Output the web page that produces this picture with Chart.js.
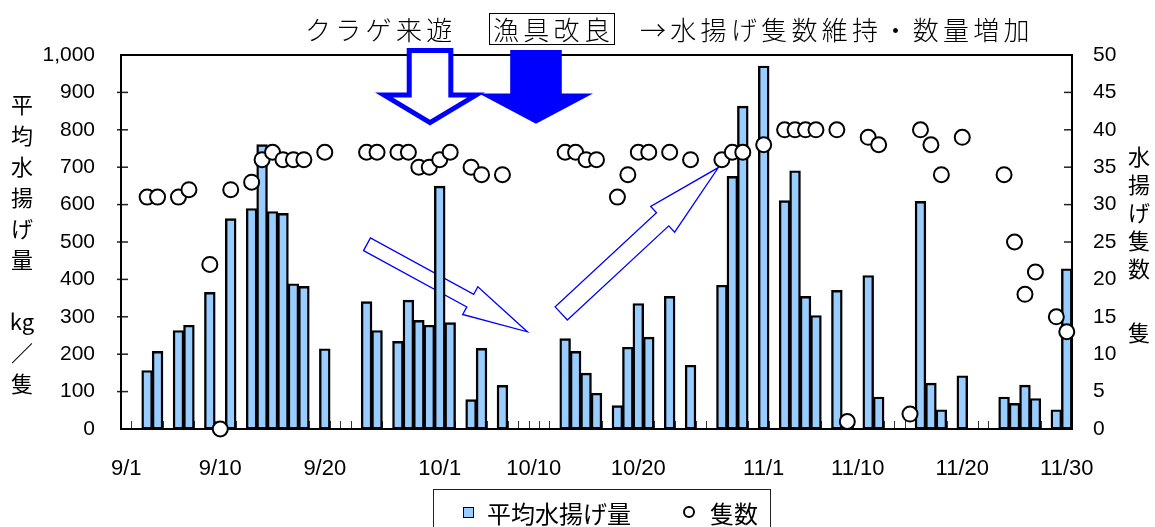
<!DOCTYPE html>
<html lang="ja">
<head>
<meta charset="utf-8">
<title>平均水揚げ量と隻数</title>
<script src="https://cdn.jsdelivr.net/npm/chart.js@4.4.1/dist/chart.umd.min.js"></script>
<style>
  html, body { margin: 0; padding: 0; background: #fff; overflow: hidden; }
  #wrap { position: relative; width: 1155px; height: 527px; overflow: hidden; }
  #chart { position: absolute; left: 0; top: 0; }
  .txt { position: absolute; font-family: "Noto Sans CJK JP", sans-serif; color: #000; white-space: nowrap; }
  .head { font-size: 26px; line-height: 26px; top: 16px; letter-spacing: 4.3px; font-weight: 300; }
  .boxed { border: 1.5px solid #000; padding: 2px 0 2px 3px; top: 13px; }
  .vtitle { font-size: 22px; line-height: 31px; text-align: center; width: 40px; }
  #legend { position: absolute; left: 433px; top: 489px; width: 338px; height: 60px; border: 1.5px solid #222; box-sizing: border-box; }
  .lg { font-size: 24px; line-height: 24px; top: 11px; }
</style>
</head>
<body>
<div id="wrap">
  <canvas id="chart" width="1155" height="527"></canvas>

  <div class="txt head" style="left:305px;">クラゲ来遊</div>
  <div class="txt head boxed" style="left:489px;">漁具改良</div>
  <div class="txt head" style="left:640px;">→水揚げ隻数維持・数量増加</div>

  <div class="txt vtitle" style="left:2px; top:88px;">平<br>均<br>水<br>揚<br>げ<br>量<br>&nbsp;<br>kg<br>／<br>隻</div>
  <div class="txt vtitle" style="left:1119px; top:141px; line-height:28px;">水<br>揚<br>げ<br>隻<br>数</div>
  <div class="txt vtitle" style="left:1119px; top:317px; line-height:28px;">隻</div>

  <div id="legend">
    <div style="position:absolute; left:29px; top:17px; width:9px; height:9px; background:#99CCFF; border:1px solid #000;"></div>
    <div class="txt lg" style="left:53px;">平均水揚げ量</div>
    <div style="position:absolute; left:249px; top:16px; width:8px; height:8px; border:2px solid #000; border-radius:50%; background:#fff;"></div>
    <div class="txt lg" style="left:276px;">隻数</div>
  </div>
</div>

<script>
// Days of the season, 9/1 .. 11/30
const months = [[9, 30], [10, 31], [11, 30]];
const categories = [];
for (const [m, n] of months) {
  for (let d = 1; d <= n; d++) categories.push(m + '/' + d);
}

// Dates printed under the axis
const tickLabels = ['9/1', '9/10', '9/20', '10/1', '10/10', '10/20', '11/1', '11/10', '11/20', '11/30'];

// Average landing per boat (kg / boat)
const catchDays = ['9/3','9/4','9/6','9/7','9/9','9/11','9/13','9/14','9/15','9/16',
  '9/17','9/18','9/20','9/24','9/25','9/27','9/28','9/29','9/30','10/1',
  '10/2','10/4','10/5','10/7','10/13','10/14','10/15','10/16','10/18','10/19',
  '10/20','10/21','10/23','10/25','10/28','10/29','10/30','11/1','11/3','11/4',
  '11/5','11/6','11/8','11/11','11/12','11/16','11/17','11/18','11/20','11/24',
  '11/25','11/26','11/27','11/29','11/30'];
const catchPerBoat = [156, 207, 263, 277, 365, 562, 589, 760, 581, 576,
  388, 381, 214, 340, 263, 234, 344, 290, 277, 649,
  284, 78, 215, 116, 241, 207, 149, 95, 62, 218,
  335, 245, 354, 170, 384, 675, 863, 970, 610, 690,
  354, 303, 370, 410, 85, 608, 122, 51, 142, 85,
  68, 117, 81, 51, 428];

// Number of boats landing (隻)
const boatDays = ['9/3','9/4','9/6','9/7','9/9','9/10','9/11','9/13','9/14','9/15',
  '9/16','9/17','9/18','9/20','9/24','9/25','9/27','9/28','9/29','9/30',
  '10/1','10/2','10/4','10/5','10/7','10/13','10/14','10/15','10/16','10/18',
  '10/19','10/20','10/21','10/23','10/25','10/28','10/29','10/30','11/1','11/3',
  '11/4','11/5','11/6','11/8','11/9','11/11','11/12','11/15','11/16','11/17',
  '11/18','11/20','11/24','11/25','11/26','11/27','11/29','11/30'];
const boatCount = [31, 31, 31, 32, 22, 0, 32, 33, 36, 37,
  36, 36, 36, 37, 37, 37, 37, 37, 35, 35,
  36, 37, 35, 34, 34, 37, 37, 36, 36, 31,
  34, 37, 37, 37, 36, 36, 37, 37, 38, 40,
  40, 40, 40, 40, 1, 39, 38, 2, 40, 38,
  34, 39, 34, 25, 18, 21, 15, 13];

const BLUE = '#0000FF';

// Frame around the plot area plus the small inside tick marks
const framePlugin = {
  id: 'frame',
  beforeDatasetsDraw(chart) {
    const { ctx, chartArea: a, scales } = chart;
    ctx.save();
    // day ticks along the bottom, on the boundaries between days
    ctx.lineWidth = 1;
    ctx.strokeStyle = '#333';
    for (let i = 0; i <= categories.length; i++) {
      const x = Math.round(scales.x.getPixelForValue(i - 0.5)) + 0.5;
      ctx.beginPath(); ctx.moveTo(x, a.bottom); ctx.lineTo(x, a.bottom - 8); ctx.stroke();
    }
    // left value ticks
    ctx.lineWidth = 1.5;
    ctx.strokeStyle = '#222';
    for (let v = 100; v < 1000; v += 100) {
      const y = scales.y.getPixelForValue(v);
      ctx.beginPath(); ctx.moveTo(a.left - 4, y); ctx.lineTo(a.left + 7, y); ctx.stroke();
    }
    // right boat-count ticks
    for (let v = 5; v < 50; v += 5) {
      const y = scales.y1.getPixelForValue(v);
      ctx.beginPath(); ctx.moveTo(a.right - 8, y); ctx.lineTo(a.right, y); ctx.stroke();
    }
    // plot border
    ctx.strokeStyle = '#000';
    ctx.lineWidth = 2;
    ctx.strokeRect(a.left, a.top, a.right - a.left, a.bottom - a.top);
    ctx.restore();
  }
};

// Thin trend arrows (behind the bars) and the two big arrows under the heading
const trendArrows = [
  { from: [23.04, 494], to: [38.38, 260], shaft: 7.2, head: 15.8, headLen: 65 },
  { from: [41.63, 309], to: [56.66, 699], shaft: 9, head: 17.6, headLen: 76 }
];
const bigArrows = [
  { at: 29.07, filled: false, shaft: 20.8, head: 46, tip: 819, base: 893 },
  { at: 39.21, filled: true, shaft: 25.8, head: 57, tip: 816, base: 897 }
];

function arrowPath(ctx, sx, sy, tx, ty, sw, hw, hl) {
  const len = Math.hypot(tx - sx, ty - sy);
  const ux = (tx - sx) / len, uy = (ty - sy) / len;
  const nx = -uy, ny = ux;
  const bx = tx - ux * hl, by = ty - uy * hl;
  ctx.beginPath();
  ctx.moveTo(sx + nx * sw, sy + ny * sw);
  ctx.lineTo(bx + nx * sw, by + ny * sw);
  ctx.lineTo(bx + nx * hw, by + ny * hw);
  ctx.lineTo(tx, ty);
  ctx.lineTo(bx - nx * hw, by - ny * hw);
  ctx.lineTo(bx - nx * sw, by - ny * sw);
  ctx.lineTo(sx - nx * sw, sy - ny * sw);
  ctx.closePath();
}

const arrowPlugin = {
  id: 'arrows',
  beforeDatasetsDraw(chart) {
    const { ctx, scales } = chart;
    ctx.save();
    ctx.strokeStyle = BLUE;
    ctx.lineWidth = 1.3;
    ctx.fillStyle = '#fff';
    for (const t of trendArrows) {
      const sx = scales.x.getPixelForValue(t.from[0]), sy = scales.y.getPixelForValue(t.from[1]);
      const tx = scales.x.getPixelForValue(t.to[0]), ty = scales.y.getPixelForValue(t.to[1]);
      arrowPath(ctx, sx, sy, tx, ty, t.shaft, t.head, t.headLen);
      ctx.fill();
      ctx.stroke();
    }
    ctx.restore();
  },
  afterDraw(chart) {
    const { ctx, scales, chartArea: a } = chart;
    ctx.save();
    for (const b of bigArrows) {
      const cx = scales.x.getPixelForValue(b.at);
      const tipY = scales.y.getPixelForValue(b.tip);
      const baseY = scales.y.getPixelForValue(b.base);
      const topY = b.filled ? a.top - 5 : a.top - 4.5;
      ctx.beginPath();
      ctx.moveTo(cx - b.shaft, topY);
      ctx.lineTo(cx + b.shaft, topY);
      ctx.lineTo(cx + b.shaft, baseY);
      ctx.lineTo(cx + b.head, baseY);
      ctx.lineTo(cx, tipY);
      ctx.lineTo(cx - b.head, baseY);
      ctx.lineTo(cx - b.shaft, baseY);
      ctx.closePath();
      if (b.filled) {
        ctx.fillStyle = BLUE;
        ctx.fill();
      } else {
        ctx.fillStyle = '#fff';
        ctx.fill();
        ctx.strokeStyle = BLUE;
        ctx.lineWidth = 5;
        ctx.lineJoin = 'miter';
        ctx.stroke();
      }
    }
    ctx.restore();
  }
};

const tickFont = { family: '"Liberation Sans", Arial, sans-serif', size: 21 };

new Chart(document.getElementById('chart'), {
  data: {
    labels: categories,
    datasets: [
      {
        type: 'line',
        label: '隻数',
        data: boatDays.map((d, i) => ({ x: d, y: boatCount[i] })),
        yAxisID: 'y1',
        showLine: false,
        pointStyle: 'circle',
        pointRadius: 7.5,
        pointBackgroundColor: '#fff',
        pointBorderColor: '#000',
        pointBorderWidth: 2,
        clip: false,
        order: 0
      },
      {
        type: 'bar',
        label: '平均水揚げ量',
        data: catchDays.map((d, i) => ({ x: d, y: catchPerBoat[i] })),
        yAxisID: 'y',
        backgroundColor: '#99CCFF',
        borderColor: '#000',
        borderWidth: 2.4,
        borderSkipped: false,
        inflateAmount: 0.5,
        barPercentage: 1,
        categoryPercentage: 1,
        order: 1
      }
    ]
  },
  options: {
    responsive: false,
    animation: false,
    devicePixelRatio: 1,
    layout: { padding: { top: 55, left: 0, right: 0, bottom: 0 } },
    plugins: {
      legend: { display: false },
      title: { display: false },
      tooltip: { enabled: false }
    },
    scales: {
      x: {
        type: 'category',
        offset: true,
        grid: { display: false },
        border: { display: false },
        ticks: {
          autoSkip: false,
          maxRotation: 0,
          minRotation: 0,
          padding: 19,
          color: '#000',
          font: { family: tickFont.family, size: 22 },
          callback(value) {
            const lab = this.getLabelForValue(value);
            return tickLabels.includes(lab) ? lab : '';
          }
        },
        afterFit(s) { s.height = 98; }
      },
      y: {
        position: 'left',
        min: 0,
        max: 1000,
        grid: { display: false, drawTicks: false },
        border: { display: false },
        ticks: {
          stepSize: 100,
          padding: 26,
          color: '#000',
          font: tickFont,
          callback: v => v.toLocaleString('en-US')
        },
        afterFit(s) { s.width = 121; }
      },
      y1: {
        position: 'right',
        min: 0,
        max: 50,
        grid: { display: false, drawTicks: false },
        border: { display: false },
        ticks: {
          stepSize: 5,
          padding: 21,
          color: '#000',
          font: tickFont
        },
        afterFit(s) { s.width = 83; }
      }
    }
  },
  plugins: [framePlugin, arrowPlugin]
});
</script>
</body>
</html>
